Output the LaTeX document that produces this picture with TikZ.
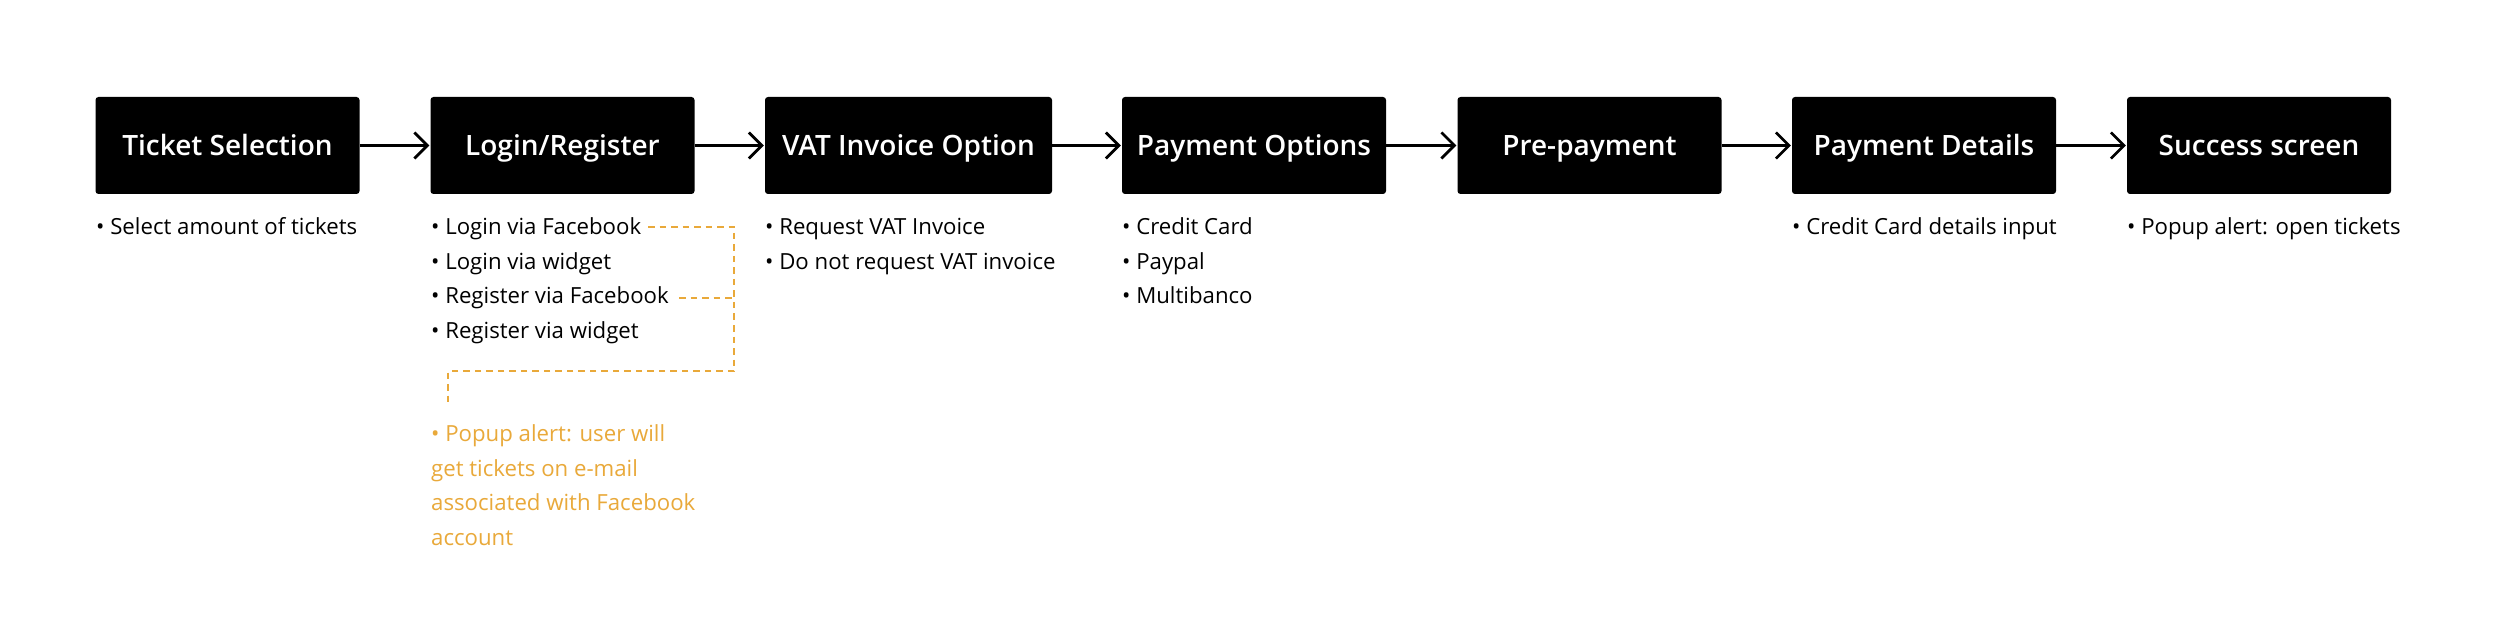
\documentclass[tikz,border=0pt]{standalone}
\usepackage{fontspec}
\setmainfont{Open Sans}
\IfFontExistsTF{Open Sans Semibold}
  {\newfontfamily\boxfont{Open Sans Semibold}}
  {\IfFontExistsTF{Open Sans SemiBold}
     {\newfontfamily\boxfont{Open Sans SemiBold}}
     {\newfontfamily\boxfont{Open Sans}[UprightFont=*-Bold]\def\boxfontfallback{}}}
\usetikzlibrary{arrows.meta}
\definecolor{popor}{HTML}{E9A93A}
\tikzset{
  stepbox/.style={fill=black, rounded corners=3pt, minimum width=264pt, minimum height=97pt,
    inner sep=0pt, text height=21pt, text depth=0pt, text=white, font=\boxfont\fontsize{28}{32}\selectfont},
  flowarr/.style={line width=2.7pt, -{Straight Barb[length=13pt,width=26pt,line width=2.7pt]}, shorten >=1pt},
  itemtxt/.style={anchor=base west, inner sep=0pt, font=\fontsize{22.2}{34.5}\selectfont},
  popdash/.style={draw=popor, line width=2.4pt, dash pattern=on 6.5pt off 5pt},
}
\begin{document}
\begin{tikzpicture}[x=1pt,y=-1pt]
\useasboundingbox[fill=white] (0,0) rectangle (2500,644);
\node[stepbox] (b1) at (227.5,145.5) {Ticket Selection};
\node[stepbox] (b2) at (562.5,145.5) {Login/Register};
\node[stepbox, minimum width=287pt] (b3) at (908.5,145.5) {VAT Invoice Option};
\node[stepbox] (b4) at (1254,145.5) {Payment Options};
\node[stepbox] (b5) at (1589.5,145.5) {Pre-payment};
\node[stepbox] (b6) at (1924,145.5) {Payment Details};
\node[stepbox] (b7) at (2259,145.5) {Success screen};
\draw[flowarr] (b1) -- (b2);
\draw[flowarr] (b2) -- (b3);
\draw[flowarr] (b3) -- (b4);
\draw[flowarr] (b4) -- (b5);
\draw[flowarr] (b5) -- (b6);
\draw[flowarr] (b6) -- (b7);
% lists
\node[itemtxt] (t1) at (96,235) {• Select amount of tickets};
\node[itemtxt] (l1) at (431,235) {• Login via Facebook};
\node[itemtxt] (l2) at (431,269.5) {• Login via widget};
\node[itemtxt] (l3) at (431,304) {• Register via Facebook};
\node[itemtxt] (l4) at (431,338.5) {• Register via widget};
\node[itemtxt] (v1) at (765,235) {• Request VAT Invoice};
\node[itemtxt] (v2) at (765,269.5) {• Do not request VAT invoice};
\node[itemtxt] (p1) at (1122,235) {• Credit Card};
\node[itemtxt] (p2) at (1122,269.5) {• Paypal};
\node[itemtxt] (p3) at (1122,304) {• Multibanco};
\node[itemtxt] (d1) at (1792,235) {• Credit Card details input};
\node[itemtxt] (s1) at (2127,235) {• Popup alert: open tickets};
% popup note
\node[itemtxt, text=popor] (o1) at (431,441.5) {• Popup alert: user will};
\node[itemtxt, text=popor] (o2) at (431,476) {get tickets on e-mail};
\node[itemtxt, text=popor] (o3) at (431,510.5) {associated with Facebook};
\node[itemtxt, text=popor] (o4) at (431,545) {account};
% dashed connectors
\coordinate (da) at (648,227);
\coordinate (db) at (679,298);
\coordinate (dc) at (734,227);
\coordinate (dd) at (734,298);
\coordinate (de) at (734,371);
\coordinate (df) at (448,371);
\coordinate (dg) at (448,402);
\draw[popdash] (da) -- (dc) -- (de) -- (df) -- (dg);
\draw[popdash] (db) -- (dd);
\end{tikzpicture}
\end{document}
